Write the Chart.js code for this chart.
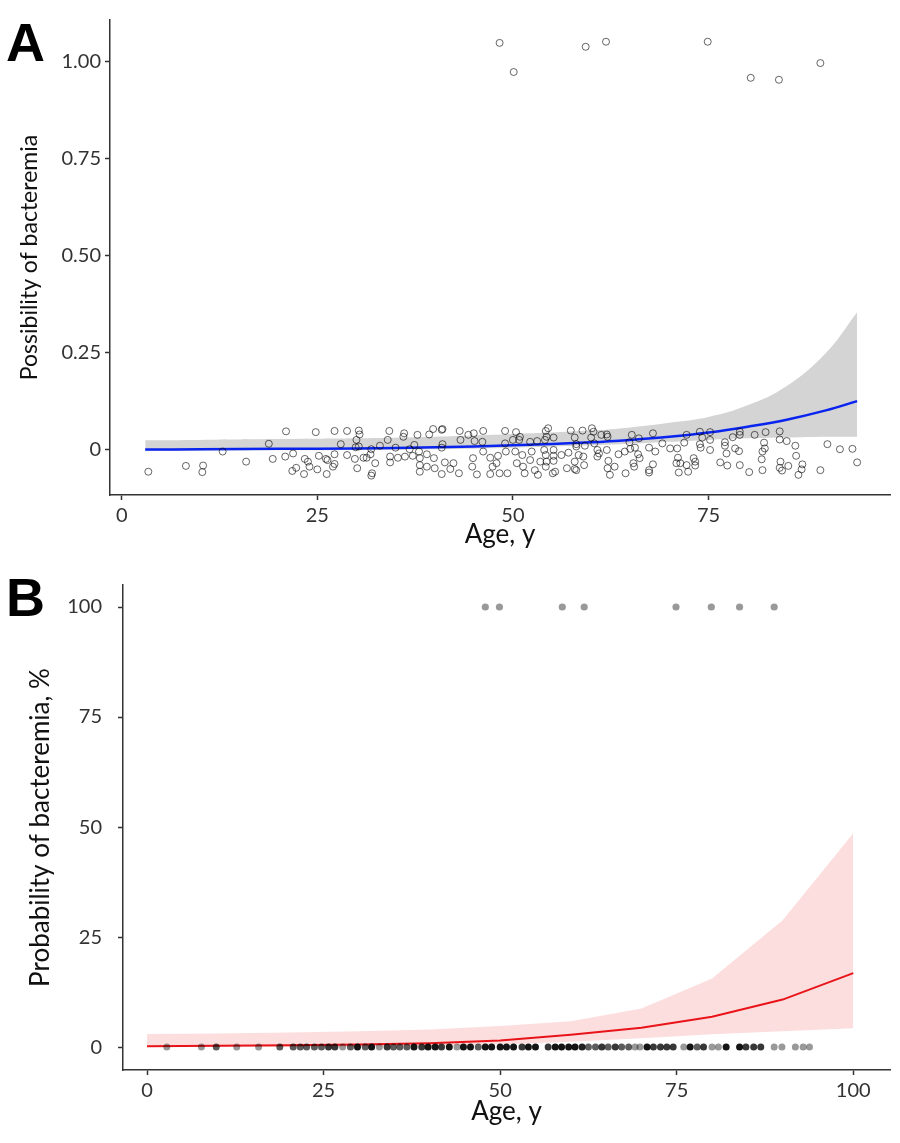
<!DOCTYPE html>
<html>
<head>
<meta charset="utf-8">
<script src="https://cdn.jsdelivr.net/npm/chart.js@4/dist/chart.umd.min.js"></script>
<style>
  body { margin: 0; background: #fff; width: 900px; height: 1143px; position: relative; overflow: hidden; }
  canvas { position: absolute; left: 0; }
  #chartA { top: 0; }
  #chartB { top: 570px; }
  .panel { position: absolute; left: 6px; font: bold 54px "Liberation Sans", Arial, sans-serif; color: #000; }
</style>
</head>
<body>
<div class="panel" style="top:11px">A</div>
<div class="panel" style="top:566px">B</div>
<canvas id="chartA" width="900" height="570"></canvas>
<canvas id="chartB" width="900" height="573"></canvas>
<script>
// ---- panel A: observed outcome (jittered) by age ----
const ageA = [3.4, 8.2, 10.4, 10.3, 12.9, 15.9, 18.8,
  21.0, 19.3, 20.9, 21.9, 21.8, 22.3, 23.3, 23.4, 23.8, 24.0, 24.8, 25.0, 25.2, 26.1, 26.3, 26.2, 27.0, 27.2, 27.2, 27.2,
  28.0, 28.8, 28.8, 29.8, 30.1, 30.3, 30.4, 30.0, 29.9, 30.3, 30.9, 31.3, 31.8, 31.9, 32.4, 32.0, 31.9, 33.0, 34.2, 34.0,
  34.3, 34.3, 35.0, 35.3, 36.1, 36.0, 36.2, 36.8, 37.2, 37.4, 37.8, 38.0, 38.1, 38.1, 38.1,
  39.8, 40.9, 41.0, 41.0, 40.9, 39.3, 39.0, 39.9, 39.0, 40.0, 40.9, 41.3, 42.0, 42.4, 43.2, 43.3, 43.1, 44.3, 45.0, 45.1,
  44.9, 44.8, 45.4, 46.2, 46.1, 46.2, 47.1, 47.4, 47.1, 47.9, 48.1, 48.3, 49.0, 49.0, 49.1, 49.3, 50.0, 50.3, 50.5, 50.4,
  50.9, 50.8, 51.2, 51.3, 51.5, 52.2, 52.4, 52.2, 52.8, 53.1, 53.2, 53.5, 54.2, 54.5, 54.3, 54.1, 54.0, 54.2, 54.3, 55.2,
  55.2, 55.2, 55.2, 55.1, 55.4, 54.2, 56.2, 57.1, 57.4, 57.9, 58.1, 57.9, 56.9, 57.9,
  58.9, 60.1, 60.3, 60.0, 61.3, 62.0, 62.1, 58.1, 59.2, 60.4, 58.4, 59.0, 60.8, 61.0, 60.8, 62.0, 59.1, 58.1, 62.2, 62.1,
  63.0, 62.4, 63.5, 64.3, 64.9, 65.2, 65.0, 65.6, 66.1, 66.0, 66.2, 65.4, 65.5, 64.4, 67.4, 67.9, 68.2, 67.9, 67.4, 67.4,
  69.1, 70.1, 71.0, 71.1, 70.9, 71.4, 71.2, 71.9, 72.2, 72.2, 72.4, 73.1, 73.3, 73.3, 73.9, 73.9, 74.0, 74.2, 75.2, 75.2,
  75.2, 76.5, 77.1, 77.1, 77.3, 77.4,
  78.1, 79.0, 79.0, 80.9, 82.3, 84.1, 84.1, 85.0, 82.1, 78.4, 78.9, 82.2, 81.9, 86.1, 86.2, 81.8, 84.2, 87.0, 86.9, 85.2,
  84.1, 84.4, 79.0, 80.2, 81.9, 86.5, 89.3, 90.2, 91.8, 93.4, 94.0,
  48.3, 50.1, 59.3, 61.9, 74.9, 80.4, 84.0, 89.3];
const probA = [-0.056, -0.041, -0.040, -0.057, -0.004, -0.030, 0.016,
  0.048, -0.023, -0.017, -0.009, -0.054, -0.046, -0.062, -0.023, -0.030, -0.043, 0.046, -0.050, -0.015, -0.023, -0.026, -0.062, -0.043, -0.036, -0.011, 0.049,
  0.015, 0.049, -0.013, -0.023, -0.047, 0.050, 0.040, 0.026, 0.007, 0.009, -0.020, -0.020, -0.011, 0.002, -0.034, -0.060, -0.066, 0.011, 0.049, 0.026,
  -0.017, -0.032, 0.006, -0.020, 0.043, 0.034, -0.017, 0.002, -0.015, 0.013, 0.039, -0.004, -0.021, -0.039, -0.056,
  0.054, 0.052, 0.054, 0.015, 0.006, 0.040, -0.011, -0.021, -0.043, -0.047, -0.062, -0.032, -0.049, -0.034, 0.049, 0.026, -0.060, 0.039, 0.043, 0.023,
  -0.021, -0.043, -0.063, 0.049, 0.021, -0.004, -0.020, -0.043, -0.062, -0.034, -0.015, -0.060, 0.049, 0.017, -0.004, -0.060, 0.026, -0.004, -0.034, 0.046,
  0.034, 0.026, -0.013, -0.043, -0.060, 0.021, -0.004, -0.026, -0.052, 0.023, -0.064, -0.030, 0.049, 0.056, 0.034, 0.026, 0.000, -0.013, -0.030, 0.032,
  0.000, -0.015, -0.028, -0.060, -0.056, -0.043, -0.013, -0.007, 0.050, 0.032, 0.015, -0.030, -0.047, -0.049,
  0.050, 0.056, 0.047, 0.032, 0.039, 0.040, 0.034, 0.009, 0.011, 0.017, -0.013, -0.017, 0.000, -0.009, -0.017, 0.000, -0.039, -0.052, -0.028, -0.047,
  -0.043, -0.064, -0.011, -0.004, 0.020, 0.039, 0.003, 0.006, 0.030, -0.011, -0.021, -0.034, -0.043, -0.060, 0.006, 0.043, -0.004, -0.037, -0.052, -0.058,
  0.017, 0.004, 0.004, -0.020, -0.034, -0.034, -0.058, 0.019, 0.039, -0.039, -0.056, -0.021, -0.030, -0.040, 0.047, 0.015, 0.006, 0.032, 0.046, 0.026,
  0.000, -0.032, 0.020, 0.011, -0.009, -0.040,
  0.033, 0.047, 0.039, 0.039, 0.046, 0.048, 0.027, 0.023, 0.019, 0.004, -0.003, 0.004, -0.004, 0.011, -0.015, -0.024, -0.030, -0.037, -0.050, -0.041,
  -0.046, -0.053, -0.039, -0.057, -0.052, -0.064, -0.052, 0.015, 0.002, 0.003, -0.032,
  1.049, 0.974, 1.039, 1.052, 1.052, 0.959, 0.954, 0.997];

// logistic fit and 95% band
const fitAgeA = [3, 10, 20, 30, 40, 50, 60, 65, 70, 75, 80, 85, 90, 94];
const fitA    = [0.001, 0.002, 0.003, 0.004, 0.007, 0.012, 0.020, 0.026, 0.034, 0.045, 0.060, 0.078, 0.102, 0.126];
const upperA  = [0.025, 0.026, 0.028, 0.030, 0.034, 0.041, 0.050, 0.058, 0.070, 0.085, 0.115, 0.165, 0.250, 0.355];
const lowerA  = [-0.003, -0.002, -0.001, 0.000, 0.002, 0.006, 0.012, 0.016, 0.021, 0.026, 0.030, 0.032, 0.034, 0.034];
const yTicksA = [0, 0.25, 0.5, 0.75, 1];
const yLabelsA = ['0', '0.25', '0.50', '0.75', '1.00'];
const xTicksA = [0, 25, 50, 75];

// ---- panel B: predicted probability (%) ----
const ageB0 = [2.8, 7.7, 9.8, 12.7, 15.8, 18.8, 20.7, 21.7, 22.6, 23.7, 24.7, 25.7, 26.6, 27.7, 28.8, 29.8, 30.9, 31.8,
  32.9, 34.0, 34.9, 35.8, 36.8, 37.8, 38.9, 39.8, 40.8, 41.7, 42.8, 43.9, 44.8, 45.8, 46.9, 47.9, 48.8, 50.0, 50.9, 51.9,
  53.1, 54.0, 55.0, 56.8, 57.8, 58.7, 59.7, 60.6, 61.6, 62.5, 63.5, 64.4, 65.3, 66.3, 67.2, 68.2, 69.1, 69.8, 70.8,
  71.7, 72.7, 73.6, 74.5, 76.0, 76.9, 77.9, 78.8, 80.0, 80.9, 82.0, 83.9, 84.8, 85.9, 86.9, 88.8, 89.9, 91.8, 92.9, 93.8];
const countB0 = [1, 1, 2, 1, 1, 2, 2, 2, 2, 2, 2, 3, 3, 1, 2, 5, 2, 5,
  1, 3, 2, 2, 2, 5, 3, 5, 5, 3, 5, 1, 5, 5, 2, 5, 5, 5, 5, 5,
  3, 5, 5, 3, 5, 5, 5, 5, 4, 2, 2, 3, 2, 3, 2, 2, 1, 1, 5,
  3, 3, 3, 3, 1, 5, 2, 3, 1, 1, 5, 5, 3, 3, 3, 1, 1, 1, 1, 1];
const ageB1 = [47.9, 49.9, 58.8, 61.9, 74.9, 79.9, 83.9, 88.8];
const fitAgeB = [0, 10, 20, 30, 40, 50, 60, 70, 80, 90, 100];
const fitB    = [0.2, 0.3, 0.4, 0.6, 0.9, 1.5, 2.8, 4.4, 6.9, 10.8, 16.8];
const upperB  = [3.0, 3.1, 3.3, 3.6, 4.0, 4.8, 5.9, 8.8, 15.6, 28.8, 48.6];
const lowerB  = [0.0, 0.0, 0.0, 0.1, 0.3, 0.6, 1.2, 2.0, 2.9, 3.6, 4.3];
const yTicksB = [0, 25, 50, 75, 100];
const xTicksB = [0, 25, 50, 75, 100];

const FONT = 'Lato, "Open Sans", sans-serif';
Chart.defaults.font.family = FONT;
Chart.defaults.color = '#222';

function xy(xs, ys) { return xs.map((x, i) => ({x: x, y: ys[i]})); }

function axis(opts) {
  return {
    type: 'linear',
    min: opts.min,
    max: opts.max,
    afterBuildTicks: s => { s.ticks = opts.ticks.map(v => ({value: v})); },
    afterFit: s => {
      // fixed axis boxes so the plot area lands where the reference has it
      if (opts.width) s.width = opts.width;
      if (opts.height) s.height = opts.height;
      s.paddingTop = s.paddingBottom = s.paddingLeft = s.paddingRight = 0;
    },
    ticks: {
      font: {size: 20},
      color: '#333',
      padding: opts.tickPad || 4,
      callback: opts.labels ? (v) => opts.labels[opts.ticks.indexOf(v)] : (v) => String(v)
    },
    grid: {drawOnChartArea: false, color: '#333', tickLength: 5, tickWidth: 1.5},
    border: {display: true, color: '#333', width: 1.5},
    title: {display: true, text: opts.title, font: {size: opts.titleSize}, color: '#111', padding: opts.titlePad}
  };
}

function baseOptions(layout, xAxis, yAxis) {
  return {
    responsive: false,
    animation: false,
    layout: {padding: layout},
    plugins: {legend: {display: false}, tooltip: {enabled: false}},
    scales: {x: xAxis, y: yAxis}
  };
}

// panel A
new Chart(document.getElementById('chartA'), {
  type: 'line',
  data: {
    datasets: [{
      data: xy(ageA, probA), showLine: false, order: 0,
      pointRadius: 3.5, pointBorderWidth: 1, pointBorderColor: 'rgba(0,0,0,0.6)', pointBackgroundColor: 'rgba(0,0,0,0)'
    }, {
      data: xy(fitAgeA, fitA), order: 1, borderColor: '#0a24f0', borderWidth: 2.5, pointRadius: 0, tension: 0.4, fill: false
    }, {
      data: xy(fitAgeA, upperA), order: 2, borderWidth: 0, pointRadius: 0, tension: 0.4,
      backgroundColor: '#d4d4d4', fill: '+1'
    }, {
      data: xy(fitAgeA, lowerA), order: 3, borderWidth: 0, pointRadius: 0, tension: 0.4, fill: false
    }]
  },
  options: baseOptions({left: 0, right: 10, top: 20, bottom: 0},
    axis({min: -1.5, max: 98.2, ticks: xTicksA, height: 75, title: 'Age, y', titleSize: 26, titlePad: {top: 0, bottom: 20}}),
    axis({min: -0.116, max: 1.108, ticks: yTicksA, labels: yLabelsA, width: 110, title: 'Possibility of bacteremia', titleSize: 23, titlePad: {top: 16, bottom: 0}}))
});

// panel B
const colorB0 = countB0.map(c => 'rgba(0,0,0,' + (1 - Math.pow(0.6, c)).toFixed(3) + ')');
new Chart(document.getElementById('chartB'), {
  type: 'line',
  data: {
    datasets: [{
      data: xy(ageB0, ageB0.map(() => 0)), showLine: false, order: 0,
      pointRadius: 3.5, pointBorderWidth: 0, pointBackgroundColor: colorB0
    }, {
      data: xy(ageB1, ageB1.map(() => 100)), showLine: false, order: 0,
      pointRadius: 3.6, pointBorderWidth: 0, pointBackgroundColor: 'rgba(0,0,0,0.4)'
    }, {
      data: xy(fitAgeB, fitB), order: 1, borderColor: '#e8141a', borderWidth: 2, pointRadius: 0, fill: false
    }, {
      data: xy(fitAgeB, upperB), order: 2, borderWidth: 0, pointRadius: 0,
      backgroundColor: 'rgba(245,160,160,0.35)', fill: '+1'
    }, {
      data: xy(fitAgeB, lowerB), order: 3, borderWidth: 0, pointRadius: 0, fill: false
    }]
  },
  options: baseOptions({left: 0, right: 10, top: 15, bottom: 0},
    axis({min: -3.4, max: 105.2, ticks: xTicksB, height: 73, title: 'Age, y', titleSize: 26, titlePad: {top: 0, bottom: 16}}),
    axis({min: -5.2, max: 105, ticks: yTicksB, width: 123, tickPad: 16, title: 'Probability of bacteremia, %', titleSize: 26, titlePad: {top: 25, bottom: 0}}))
});
</script>
</body>
</html>
